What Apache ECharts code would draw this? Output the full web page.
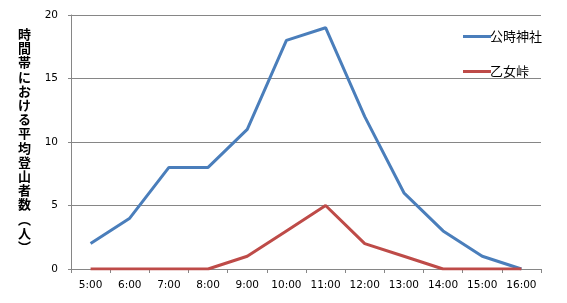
<!DOCTYPE html>
<html><head><meta charset="utf-8">
<script src="https://cdn.jsdelivr.net/npm/echarts@6/dist/echarts.min.js"></script>
<style>html,body{margin:0;padding:0;background:#fff}#c{width:567px;height:303px}</style>
</head><body><div id="c"></div>
<script>
const categories = ['5:00','6:00','7:00','8:00','9:00','10:00','11:00','12:00','13:00','14:00','15:00','16:00'];
const kintokiShrine = [2,4,8,8,11,18,19,12,6,3,1,0];
const otomePass = [0,0,0,0,1,3,5,2,1,0,0,0];
const seriesNames = ['公時神社','乙女峠'];
const yTitle = '時間帯における平均登山者数︵人︶';
const yMin = 0, yMax = 20, yStep = 5;

const chart = echarts.init(document.getElementById('c'));
const gridColor = '#868686';
const colors = ['#4a7ebb','#be4b48'];
const labelFont = {fontFamily:'DejaVu Sans', fontSize:10.5, color:'#000'};
chart.setOption({
  animation:false,
  backgroundColor:'#fff',
  grid:{left:71, right:26, top:15, bottom:34},
  legend:{
    orient:'vertical', left:458, top:25, itemGap:22,
    itemWidth:28, itemHeight:3, icon:'rect',
    textStyle:{fontFamily:'Noto Sans CJK JP', fontSize:13, color:'#000', padding:[0,0,0,-6]},
    data:seriesNames
  },
  graphic:[{
    type:'text', left:18, top:27,
    style:{
      text: Array.from(yTitle).join('\n'),
      font:'bold 13px "Noto Sans CJK JP"', lineHeight:14.2, fill:'#000', align:'center'
    }
  }],
  xAxis:{
    type:'category', data:categories, boundaryGap:true,
    axisLine:{lineStyle:{color:gridColor, width:1}},
    axisTick:{show:true, length:4, lineStyle:{color:gridColor}, alignWithLabel:false},
    axisLabel:Object.assign({margin:11, interval:0}, labelFont)
  },
  yAxis:{
    type:'value', min:yMin, max:yMax, interval:yStep,
    axisLine:{show:true, lineStyle:{color:gridColor, width:1}},
    axisTick:{show:true, length:3, lineStyle:{color:gridColor}},
    splitLine:{lineStyle:{color:gridColor, width:1}},
    axisLabel:Object.assign({margin:13}, labelFont)
  },
  series:[
    {name:seriesNames[0], type:'line', data:kintokiShrine, symbol:'none',
     lineStyle:{color:colors[0], width:3}, itemStyle:{color:colors[0]}, z:2},
    {name:seriesNames[1], type:'line', data:otomePass, symbol:'none',
     lineStyle:{color:colors[1], width:3}, itemStyle:{color:colors[1]}, z:3}
  ]
});
</script></body></html>
